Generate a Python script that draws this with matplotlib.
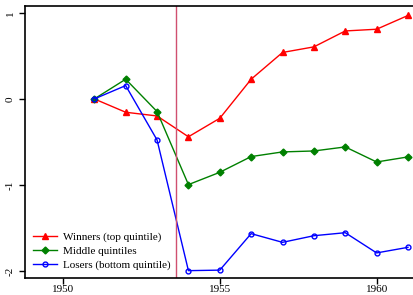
import matplotlib
matplotlib.use('Agg')
import matplotlib.pyplot as plt

years = [1951, 1952, 1953, 1954, 1955, 1956, 1957, 1958, 1959, 1960, 1961]
winners = [0.0, -0.155, -0.198, -0.44, -0.225, 0.229, 0.54, 0.605, 0.79, 0.81, 0.97]
middle = [0.0, 0.229, -0.147, -0.996, -0.853, -0.67, -0.616, -0.605, -0.558, -0.733, -0.674]
losers = [0.0, 0.155, -0.477, -1.996, -1.99, -1.566, -1.667, -1.59, -1.555, -1.79, -1.725]
event_year = 1953.59

xticks = [1950, 1955, 1960]
yticks = [1, 0, -1, -2]

plt.rcParams['font.family'] = ['Liberation Serif', 'DejaVu Serif']

fig = plt.figure(figsize=(4.13, 2.95), dpi=100)
ax = fig.add_axes([25 / 413, 1 - 277.7 / 295, (413 - 25) / 413, (277.7 - 6) / 295])

ax.plot(years, winners, color='red', lw=1, marker='^', ms=4, label='Winners (top quintile)')
ax.plot(years, middle, color='green', lw=1, marker='D', ms=3.5, label='Middle quintiles')
ax.plot(years, losers, color='blue', lw=1, marker='o', ms=3.5, mfc='none', mew=1,
        label='Losers (bottom quintile)')
ax.axvline(event_year, color='#d05070', lw=1)

ax.set_xlim(1948.79, 1961.16)
ax.set_ylim(-2.078, 1.08)
ax.set_xticks(xticks)
ax.set_yticks(yticks)
ax.set_yticklabels([str(t) for t in yticks], rotation=90, va='center')
ax.tick_params(labelsize=8, length=4, width=1)
ax.tick_params(axis='x', pad=1.5)
ax.spines['right'].set_visible(False)
for s in ['left', 'bottom', 'top']:
    ax.spines[s].set_linewidth(1.2)

ax.legend(loc='lower left', frameon=False, fontsize=8, handlelength=2.2,
          labelspacing=0.35, borderaxespad=0.3, handletextpad=0.5)

fig.savefig('out.png', dpi=100)
